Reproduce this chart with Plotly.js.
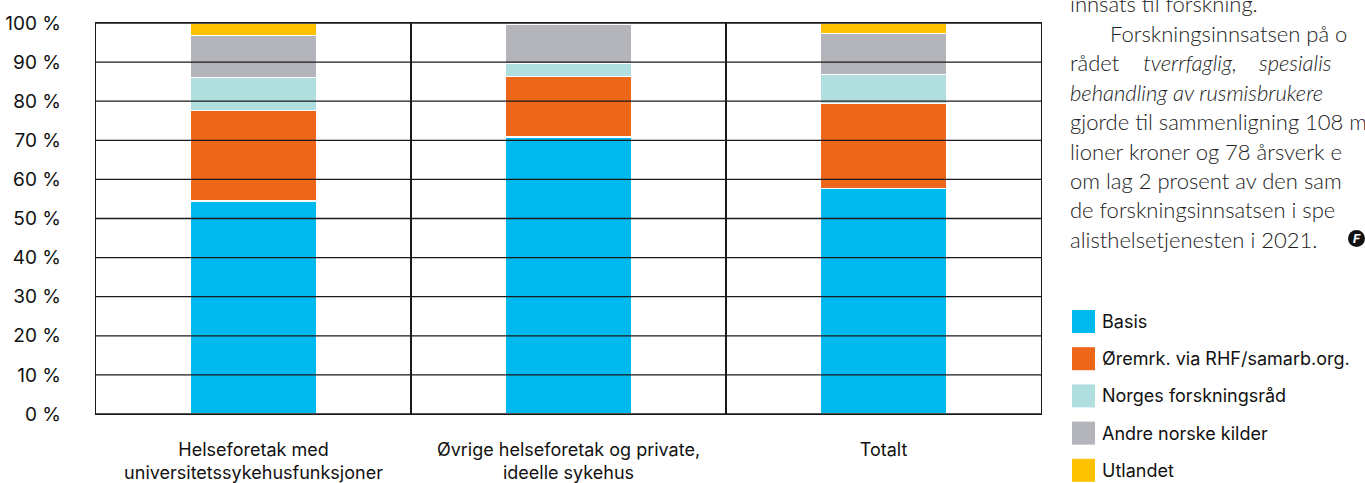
<!DOCTYPE html>
<html>
<head>
<meta charset="utf-8">
<script src="https://cdn.plot.ly/plotly-3.0.1.min.js"></script>
<style>html,body{margin:0;padding:0;background:#fff;overflow:hidden}#chart{width:1365px;height:483px}</style>
</head>
<body>
<div id="chart"></div>
<script>
// ---- data ----
var categories = [
  "Helseforetak med<br>universitetssykehusfunksjoner",
  "Øvrige helseforetak og private,<br>ideelle sykehus",
  "Totalt"
];
var seriesNames = ["Basis", "Øremrk. via RHF/samarb.org.", "Norges forskningsråd", "Andre norske kilder", "Utlandet"];
var basis       = [54.5, 70.8, 57.7];
var oremerket   = [23.1, 15.5, 21.7];
var forskRaad   = [8.5, 3.3, 7.4];
var andreNorske = [10.7, 10.0, 10.5];
var utlandet    = [3.2, 0.4, 2.7];
var yTickVals   = [0, 10, 20, 30, 40, 50, 60, 70, 80, 90, 100];
var yTickText   = ["0 %", "10 %", "20 %", "30 %", "40 %", "50 %", "60 %", "70 %", "80 %", "90 %", "100 %"];
var bodyLines = [
  "innsats til forskning.",
  "Forskningsinnsatsen på o",
  "rådet    <i>tverrfaglig,    spesialis</i>",
  "<i>behandling av rusmisbrukere</i>",
  "gjorde til sammenligning 108 m",
  "lioner kroner og 78 årsverk e",
  "om lag 2 prosent av den sam",
  "de forskningsinnsatsen i spe",
  "alisthelsetjenesten i 2021."
];

// ---- styles ----
var colors = ["#00B9EF", "#EE6619", "#B1DFDF", "#B4B5BA", "#FDC100"];
var seriesValues = [basis, oremerket, forskRaad, andreNorske, utlandet];
var labelFont = {family: "Inter, Roboto, Arial, sans-serif", size: 18, color: "#111"};
var yFont = {family: "Inter, Roboto, Arial, sans-serif", size: 19, color: "#111"};

var traces = seriesValues.map(function (vals, i) {
  return {
    type: "bar",
    name: seriesNames[i],
    x: categories,
    y: vals,
    width: 0.4,
    marker: {color: colors[i], line: {color: "#ffffff", width: 1.5}},
    showlegend: false,
    hoverinfo: "skip"
  };
});

var shapes = [];
// horizontal gridlines drawn above bars
yTickVals.forEach(function (v) {
  shapes.push({type: "line", xref: "paper", yref: "y", x0: 0, x1: 1, y0: v, y1: v,
    layer: "above", line: {color: "#1a1a1a", width: 1.3}});
});

var annotations = [];
// legend (custom, large swatches)
seriesNames.forEach(function (n, i) {
  var yc = 321.5 + i * 37.2;
  shapes.push({type: "rect", xref: "paper", yref: "paper",
    x0: (1072 - 96) / 945, x1: (1095 - 96) / 945,
    y0: (414 - (yc - 11.5)) / 391, y1: (414 - (yc + 11.5)) / 391,
    fillcolor: colors[i], line: {width: 0}, layer: "above"});
  annotations.push({xref: "paper", yref: "paper", x: (1100 - 96) / 945, y: (414 - yc) / 391,
    xanchor: "left", yanchor: "middle", text: n, showarrow: false, font: labelFont});
});

// body text column at right
bodyLines.forEach(function (t, i) {
  var yc = 4 + i * 29.4;
  var x0 = (i === 1) ? 1108 : 1068;
  annotations.push({xref: "paper", yref: "paper", x: (x0 - 96) / 945, y: (414 - yc) / 391,
    xanchor: "left", yanchor: "middle", text: t, showarrow: false,
    font: {family: "Lato, 'Noto Sans', sans-serif", size: 22, color: "#222", weight: 300}});
});
// small logo
shapes.push({type: "circle", xref: "paper", yref: "paper",
  x0: (1348 - 96) / 945, x1: (1365 - 96) / 945, y0: (414 - 230) / 391, y1: (414 - 247) / 391,
  fillcolor: "#111", line: {width: 0}, layer: "above"});
annotations.push({xref: "paper", yref: "paper", x: (1356.5 - 96) / 945, y: (414 - 238.5) / 391,
  xanchor: "center", yanchor: "middle", text: "<b><i>F</i></b>", showarrow: false,
  font: {family: "Roboto, Arial, sans-serif", size: 13, color: "#fff"}});

var layout = {
  width: 1365, height: 483,
  margin: {l: 96, r: 324, t: 23, b: 69, pad: 0},
  paper_bgcolor: "#fff", plot_bgcolor: "#fff",
  barmode: "stack",
  bargap: 0.6,
  showlegend: false,
  font: labelFont,
  xaxis: {
    type: "category",
    tickson: "boundaries",
    showgrid: true, gridcolor: "#1a1a1a", gridwidth: 1.3,
    showline: true, linecolor: "#1a1a1a", linewidth: 1.3, mirror: true,
    ticks: "", tickfont: labelFont, ticklabelstandoff: 19,
    zeroline: false, fixedrange: true
  },
  yaxis: {
    range: [0, 100], tickmode: "array", tickvals: yTickVals, ticktext: yTickText,
    showgrid: false, zeroline: false,
    showline: true, linecolor: "#1a1a1a", linewidth: 1.3, mirror: true,
    ticks: "", tickfont: yFont, ticklabelstandoff: 30, fixedrange: true
  },
  shapes: shapes,
  annotations: annotations
};

Plotly.newPlot("chart", traces, layout, {displayModeBar: false, staticPlot: true});
</script>
</body>
</html>
